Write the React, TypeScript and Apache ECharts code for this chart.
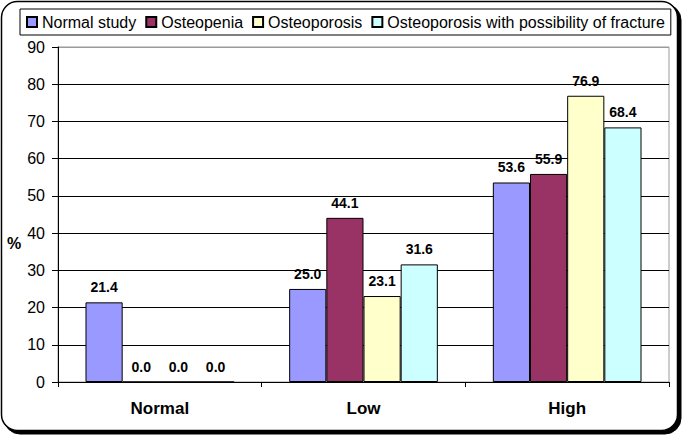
import React, { useEffect, useRef } from "react";
import * as echarts from "echarts";

const categories = ["Normal", "Low", "High"];
const seriesNames = [
  "Normal study",
  "Osteopenia",
  "Osteoporosis",
  "Osteoporosis with possibility of fracture",
];
const normalStudy = [21.4, 25.0, 53.6];
const osteopenia = [0.0, 44.1, 55.9];
const osteoporosis = [0.0, 23.1, 76.9];
const fracture = [0.0, 31.6, 68.4];
const colors = ["#9999FF", "#993366", "#FFFFCC", "#CCFFFF"];

const FONT = "'Liberation Sans', Arial, sans-serif";

export default function App() {
  const ref = useRef<HTMLDivElement>(null);
  useEffect(() => {
    if (!ref.current) return;
    const chart = echarts.init(ref.current, undefined, { renderer: "svg" });
    const values = [normalStudy, osteopenia, osteoporosis, fracture];
    const splitColors = Array.from({ length: 10 }, (_, i) => (i === 9 ? "#9a9a9a" : "#000"));
    chart.setOption({
      animation: false,
      backgroundColor: "#fff",
      textStyle: { fontFamily: FONT },
      graphic: [
        {
          type: "rect",
          z: -2,
          shape: { x: 4, y: 4, width: 677, height: 430, r: 16 },
          style: { fill: "#000", stroke: "#000", lineWidth: 1 },
        },
        {
          type: "rect",
          z: -1,
          shape: { x: 1.5, y: 1.5, width: 676, height: 429, r: 16 },
          style: { fill: "#fff", stroke: "#000", lineWidth: 1.5 },
        },
        {
          type: "text",
          left: 7,
          top: 235,
          style: { text: "%", font: `bold 16px ${FONT}`, fill: "#000" },
        },
      ],
      legend: {
        data: seriesNames,
        left: 20,
        top: 9,
        itemWidth: 10,
        itemHeight: 10,
        itemGap: 9,
        icon: "rect",
        padding: [4, 6],
        borderColor: "#000",
        borderWidth: 1,
        textStyle: { fontSize: 16, color: "#000", fontFamily: FONT, lineHeight: 18 },
      },
      grid: {
        left: 58,
        right: 16,
        top: 47,
        bottom: 56,
        show: true,
        borderColor: "#9a9a9a",
        borderWidth: 1,
        backgroundColor: "#fff",
      },
      xAxis: {
        type: "category",
        data: categories,
        axisLine: { lineStyle: { color: "#000", width: 1 } },
        axisTick: { show: true, length: 5, lineStyle: { color: "#000" } },
        axisLabel: { fontSize: 17, fontWeight: "bold", color: "#000", margin: 18, fontFamily: FONT },
      },
      yAxis: {
        type: "value",
        min: 0,
        max: 90,
        interval: 10,
        axisLine: { show: true, lineStyle: { color: "#000", width: 1 } },
        axisTick: { show: true, length: 6, lineStyle: { color: "#000" } },
        axisLabel: { fontSize: 16, color: "#000", margin: 13, fontFamily: FONT },
        splitLine: { show: true, lineStyle: { color: splitColors, width: 1.2 } },
      },
      series: values.map((v, i) => ({
        name: seriesNames[i],
        type: "bar",
        data: v,
        barGap: "0%",
        barCategoryGap: "27%",
        itemStyle: { color: colors[i], borderColor: "#000", borderWidth: 1 },
        label: {
          show: true,
          position: "top",
          distance: 8,
          formatter: (p: any) => Number(p.value).toFixed(1),
          fontSize: 14,
          lineHeight: 14,
          fontWeight: "bold",
          color: "#000",
          fontFamily: FONT,
        },
      })),
    });
    return () => chart.dispose();
  }, []);
  return (
    <div
      ref={ref}
      style={{ position: "fixed", left: 0, top: 0, width: 685, height: 438 }}
    />
  );
}
